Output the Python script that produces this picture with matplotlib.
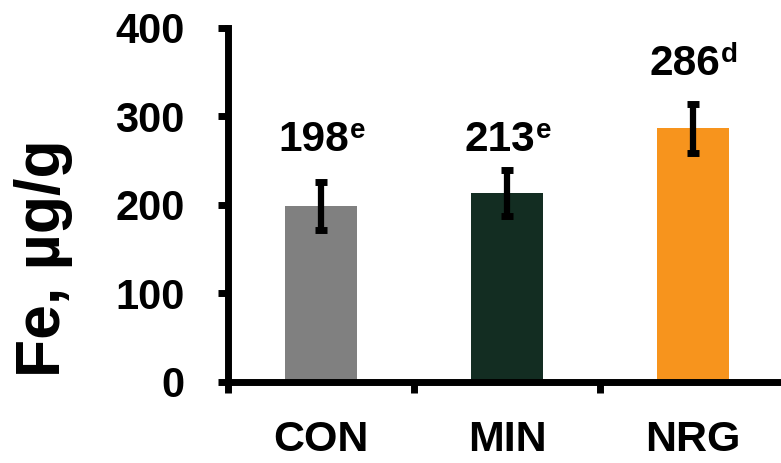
import matplotlib
matplotlib.use("Agg")
import matplotlib.pyplot as plt
from matplotlib.transforms import offset_copy
import numpy as np

categories = ["CON", "MIN", "NRG"]
values = [198, 213, 286]
errors = [27, 26, 28]
letters = ["e", "e", "d"]
colors = ["#808080", "#132D22", "#F7941D"]
label_heights = [260, 260, 346]   # baseline of the value annotations (data units)

plt.rcParams["font.family"] = ["Liberation Sans", "DejaVu Sans"]
plt.rcParams["font.weight"] = "bold"

fig = plt.figure(figsize=(7.81, 4.63), dpi=100)
ax = fig.add_axes([0.2919, 0.176, 1.0067 - 0.2919, 0.9406 - 0.176])

x = np.arange(len(categories))
ax.bar(x, values, width=0.39, color=colors, zorder=2)
ax.errorbar(x, values, yerr=errors, fmt="none", ecolor="black",
            elinewidth=4.5, capsize=4.5, capthick=5, zorder=3)

ax.set_xlim(-0.5, 2.5)
ax.set_ylim(0, 400)
ax.set_yticks([0, 100, 200, 300, 400])
ax.set_xticks(x)
ax.set_xticklabels(categories)
ax.set_xticks([-0.5, 0.5, 1.5], minor=True)

renderer = fig.canvas.get_renderer()
for xi, v, let, h in zip(x, values, letters, label_heights):
    tnum = ax.text(xi, h, str(v), ha="left", va="baseline", fontsize=30.5,
                   fontweight="bold")
    tsup = ax.text(xi, h, let, ha="left", va="baseline", fontsize=20,
                   fontweight="bold")
    wn = tnum.get_window_extent(renderer).width
    ws = tsup.get_window_extent(renderer).width
    total = wn + ws
    tnum.set_transform(offset_copy(ax.transData, fig, x=-total / 2, y=0,
                                   units="dots"))
    tsup.set_transform(offset_copy(ax.transData, fig, x=-total / 2 + wn + 1,
                                   y=13, units="dots"))

for s in ["top", "right"]:
    ax.spines[s].set_visible(False)
for s in ["left", "bottom"]:
    ax.spines[s].set_linewidth(5)
    ax.spines[s].set_capstyle("projecting")

ax.tick_params(axis="y", direction="out", length=7, width=5, pad=24,
               labelsize=30)
ax.tick_params(axis="x", which="major", length=0, pad=28, labelsize=31)
ax.tick_params(axis="x", which="minor", direction="out", length=8, width=5)
for lab in ax.get_xticklabels() + ax.get_yticklabels():
    lab.set_fontweight("bold")

fig.text(0.056, 1 - 258 / 463, "Fe, µg/g", rotation=90, ha="center",
         va="center", fontsize=45, fontweight="bold")

fig.savefig("out.png", dpi=100)
